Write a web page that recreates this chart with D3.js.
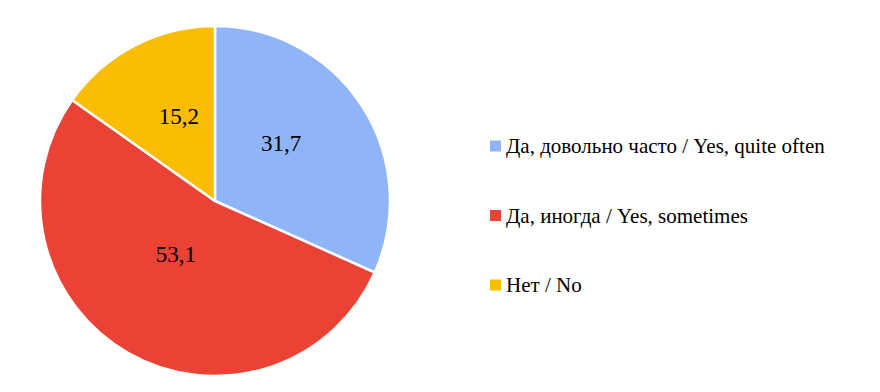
<!DOCTYPE html>
<html><head><meta charset="utf-8"><script src="https://cdn.jsdelivr.net/npm/d3@7"></script>
<style>
  svg text { font-family: "Liberation Serif" !important; }
</style>
</head>
<body style="margin:0">
<script>
const categories = ["Да, довольно часто / Yes, quite often", "Да, иногда / Yes, sometimes", "Нет / No"];
const values = [31.7, 53.1, 15.2];
const colors = ["#8fb4f8", "#ea4335", "#fbbc04"];

const width = 880, height = 392;
const cx = 215, cy = 201, radius = 175;
const font = '"Liberation Serif"';

const svg = d3.select("body")
  .append("svg")
  .attr("width", width)
  .attr("height", height)
  .attr("font-family", "Liberation Serif");

const pie = d3.pie().sort(null).value(d => d.value);
const arcs = pie(categories.map((c, i) => ({ name: c, value: values[i], color: colors[i] })));

const arc = d3.arc().innerRadius(0).outerRadius(radius);
const labelArc = d3.arc().innerRadius(radius * 0.45).outerRadius(radius * 0.45);

const g = svg.append("g").attr("transform", `translate(${cx}, ${cy})`);

g.selectAll("path")
  .data(arcs)
  .join("path")
  .attr("d", arc)
  .attr("fill", d => d.data.color)
  .attr("stroke", "#fff")
  .attr("stroke-width", 2.5)
  .attr("stroke-linejoin", "round");

// labels sit a bit above the centroid, like the original
g.selectAll(".val")
  .data(arcs)
  .join("text")
  .attr("class", "val")
  .attr("x", d => labelArc.centroid(d)[0])
  .attr("y", d => labelArc.centroid(d)[1] - 15)
  .attr("text-anchor", "middle")
  .attr("dy", "0.35em")
  .style("font-family", font, "important")
  .style("font-size", "23px")
  .text(d => String(d.data.value).replace(".", ","));

// legend
const legendY = d3.scalePoint().domain(categories).range([146, 285]);

svg.selectAll(".swatch")
  .data(categories)
  .join("rect")
  .attr("class", "swatch")
  .attr("x", 490)
  .attr("y", d => legendY(d) - 5.5)
  .attr("width", 11)
  .attr("height", 11)
  .attr("fill", (d, i) => colors[i]);

svg.selectAll(".lbl")
  .data(categories)
  .join("text")
  .attr("class", "lbl")
  .attr("x", 506)
  .attr("y", d => legendY(d))
  .attr("dy", "0.35em")
  .style("font-family", font, "important")
  .style("font-size", "21px")
  .text(d => d);
</script></body></html>
